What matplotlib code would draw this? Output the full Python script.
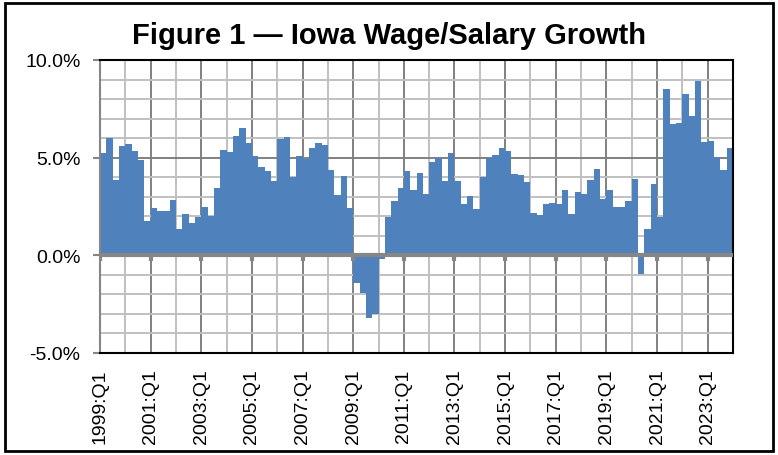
import matplotlib
matplotlib.use('Agg')
import matplotlib.pyplot as plt
from matplotlib.patches import Rectangle
import numpy as np

plt.rcParams['font.family'] = ['Liberation Sans', 'DejaVu Sans']

# quarterly wage/salary growth, % (1999:Q1 .. 2023:Q4)
growth = [5.26, 6.0, 3.88, 5.6, 5.68, 5.36, 4.9, 1.75,
          2.4, 2.26, 2.28, 2.84, 1.36, 2.1, 1.65, 1.94,
          2.5, 2.0, 3.43, 5.4, 5.27, 6.1, 6.5, 5.73,
          5.08, 4.5, 4.32, 3.8, 5.97, 6.04, 4.0, 5.08,
          4.95, 5.5, 5.73, 5.63, 4.39, 3.08, 4.06, 2.43,
          -1.43, -1.94, -3.23, -3.0, -0.19, 1.96, 2.79, 3.45,
          4.32, 3.35, 4.22, 3.15, 4.78, 4.98, 3.81, 5.24,
          3.78, 2.65, 3.03, 2.38, 4.0, 4.98, 5.15, 5.49,
          5.34, 4.17, 4.1, 3.74, 2.18, 2.09, 2.62, 2.69,
          2.64, 3.33, 2.11, 3.25, 3.16, 3.88, 4.4, 2.9,
          3.35, 2.47, 2.48, 2.8, 3.93, -0.97, 1.36, 3.64,
          1.94, 8.52, 6.73, 6.79, 8.27, 7.13, 8.95, 5.82,
          5.87, 5.05, 4.37, 5.51]
tick_labels = ['1999:Q1', '2001:Q1', '2003:Q1', '2005:Q1', '2007:Q1', '2009:Q1',
               '2011:Q1', '2013:Q1', '2015:Q1', '2017:Q1', '2019:Q1', '2021:Q1',
               '2023:Q1']
y_ticks = [-5, 0, 5, 10]

n = len(growth)
x = np.arange(n)

fig = plt.figure(figsize=(7.78, 4.56), dpi=100)
ax = fig.add_axes([100/778, 1-354/456, 633/778, 293/456])

# grid: every year / every 1%, darker every 2 years / 5%
for xb in np.arange(-0.5, n, 4):
    major = int(round(xb + 0.5)) % 8 == 0
    ax.axvline(xb, color='#808080' if major else '#c0c0c0', lw=1.4, zorder=0)
for yv in range(-5, 11):
    major = yv % 5 == 0
    ax.axhline(yv, color='#808080' if major else '#c0c0c0', lw=1.4, zorder=0)

ax.bar(x, growth, width=1.0, color='#4f81bd', zorder=2)
ax.axhline(0, color='#868686', lw=3, zorder=3)
tick_pos = np.arange(-0.5, n, 8)
ax.vlines(tick_pos, -0.28, 0, color='#868686', lw=3, zorder=3)

ax.set_xlim(-0.5, n - 0.5)
ax.set_ylim(-5, 10)
ax.set_xticks(tick_pos)
ax.set_xticklabels(tick_labels, rotation=90, fontsize=14)
ax.tick_params(axis='x', length=0, pad=11)
ax.set_yticks(y_ticks)
ax.set_yticklabels(['%.1f%%' % v for v in y_ticks], fontsize=14)
ax.tick_params(axis='y', length=5, width=1.5, color='#868686', pad=9)

for s in ['top', 'right', 'bottom']:
    ax.spines[s].set_color('black')
    ax.spines[s].set_linewidth(1.5)
ax.spines['left'].set_color('#868686')
ax.spines['left'].set_linewidth(1.5)

fig.text(389/778, 1-44/456, 'Figure 1 \u2014 Iowa Wage/Salary Growth', ha='center', va='baseline',
         fontsize=21, fontweight='bold')

fig.patches.append(Rectangle((5/778, 4/456), 768/778, 448/456, transform=fig.transFigure,
                             fill=False, edgecolor='black', lw=2))

fig.savefig('out.png', dpi=100)
